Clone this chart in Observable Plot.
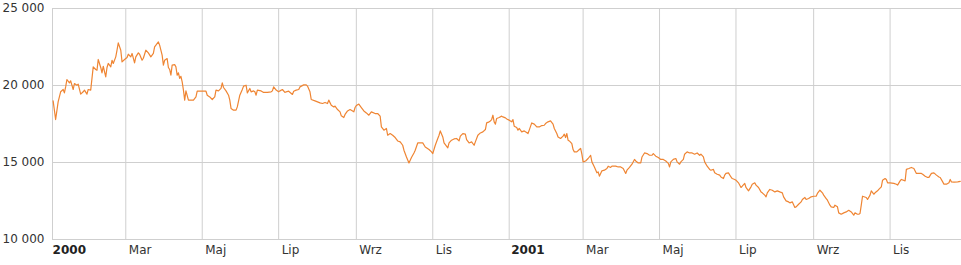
<!DOCTYPE html>
<html><head><meta charset="utf-8">
<script src="https://cdn.jsdelivr.net/npm/d3@7"></script>
<script src="https://cdn.jsdelivr.net/npm/@observablehq/plot@0.6"></script>
<style>html,body{margin:0;padding:0;background:#fff}svg{display:block}</style>
</head><body><div id="chart"></div>
<script>
const dates = [
"2000-01-03","2000-01-05","2000-01-07","2000-01-09","2000-01-11","2000-01-12","2000-01-13","2000-01-14","2000-01-16","2000-01-17","2000-01-19","2000-01-20","2000-01-22","2000-01-23","2000-01-25","2000-01-27","2000-01-28","2000-01-30","2000-01-31",
"2000-02-02","2000-02-04","2000-02-06","2000-02-07","2000-02-08","2000-02-10","2000-02-11","2000-02-12","2000-02-14","2000-02-15","2000-02-16","2000-02-18","2000-02-19","2000-02-20","2000-02-22","2000-02-23","2000-02-24","2000-02-26","2000-02-27","2000-02-29",
"2000-03-02","2000-03-03","2000-03-05","2000-03-06","2000-03-08","2000-03-09","2000-03-11","2000-03-12","2000-03-14","2000-03-15","2000-03-17","2000-03-19","2000-03-21","2000-03-23","2000-03-24","2000-03-27","2000-03-28","2000-03-30","2000-03-31",
"2000-04-01","2000-04-03","2000-04-04","2000-04-05","2000-04-06","2000-04-07","2000-04-09","2000-04-10","2000-04-11","2000-04-12","2000-04-13","2000-04-14","2000-04-15","2000-04-16","2000-04-17","2000-04-18","2000-04-20","2000-04-22","2000-04-24","2000-04-26","2000-04-27","2000-04-30",
"2000-05-02","2000-05-04","2000-05-05","2000-05-07","2000-05-09","2000-05-11","2000-05-12","2000-05-14","2000-05-16","2000-05-17","2000-05-18","2000-05-20","2000-05-22","2000-05-23","2000-05-24","2000-05-26","2000-05-28","2000-05-29","2000-05-31",
"2000-06-02","2000-06-03","2000-06-05","2000-06-06","2000-06-08","2000-06-09","2000-06-11","2000-06-12","2000-06-13","2000-06-14","2000-06-17","2000-06-19","2000-06-22","2000-06-25","2000-06-26","2000-06-27","2000-06-29",
"2000-07-01","2000-07-02","2000-07-04","2000-07-06","2000-07-07","2000-07-09","2000-07-12","2000-07-13","2000-07-15","2000-07-17","2000-07-18","2000-07-21","2000-07-23","2000-07-24","2000-07-26","2000-07-27","2000-07-30",
"2000-08-01","2000-08-03","2000-08-05","2000-08-07","2000-08-09","2000-08-10","2000-08-12","2000-08-14","2000-08-15","2000-08-17","2000-08-19","2000-08-20","2000-08-22","2000-08-23","2000-08-25","2000-08-27","2000-08-30","2000-08-31",
"2000-09-01","2000-09-03","2000-09-05","2000-09-07","2000-09-09","2000-09-11","2000-09-13","2000-09-16","2000-09-18","2000-09-20","2000-09-21","2000-09-23","2000-09-25","2000-09-26","2000-09-28","2000-09-30",
"2000-10-02","2000-10-04","2000-10-06","2000-10-08","2000-10-09","2000-10-11","2000-10-13","2000-10-15","2000-10-17","2000-10-18","2000-10-20","2000-10-22","2000-10-24","2000-10-26","2000-10-29","2000-10-31",
"2000-11-01","2000-11-03","2000-11-05","2000-11-06","2000-11-07","2000-11-09","2000-11-10","2000-11-13","2000-11-14","2000-11-16","2000-11-18","2000-11-20","2000-11-22","2000-11-23","2000-11-25","2000-11-27","2000-11-28","2000-11-30",
"2000-12-02","2000-12-04","2000-12-05","2000-12-07","2000-12-09","2000-12-11","2000-12-13","2000-12-14","2000-12-16","2000-12-17","2000-12-18","2000-12-19","2000-12-20","2000-12-21","2000-12-22","2000-12-24","2000-12-26","2000-12-27","2000-12-29","2000-12-30",
"2001-01-01","2001-01-03","2001-01-04","2001-01-05","2001-01-07","2001-01-08","2001-01-09","2001-01-11","2001-01-13","2001-01-14","2001-01-16","2001-01-17","2001-01-19","2001-01-21","2001-01-23","2001-01-25","2001-01-27","2001-01-29","2001-01-30",
"2001-02-01","2001-02-03","2001-02-05","2001-02-06","2001-02-08","2001-02-09","2001-02-11","2001-02-13","2001-02-14","2001-02-15","2001-02-16","2001-02-17","2001-02-18","2001-02-20","2001-02-21","2001-02-22","2001-02-24","2001-02-26","2001-02-27","2001-02-28",
"2001-03-01","2001-03-03","2001-03-05","2001-03-07","2001-03-08","2001-03-10","2001-03-12","2001-03-13","2001-03-14","2001-03-16","2001-03-18","2001-03-20","2001-03-21","2001-03-23","2001-03-24","2001-03-27","2001-03-29","2001-03-31",
"2001-04-02","2001-04-04","2001-04-05","2001-04-07","2001-04-09","2001-04-11","2001-04-12","2001-04-14","2001-04-16","2001-04-17","2001-04-19","2001-04-21","2001-04-23","2001-04-25","2001-04-26","2001-04-28","2001-04-30",
"2001-05-02","2001-05-04","2001-05-06","2001-05-08","2001-05-09","2001-05-10","2001-05-12","2001-05-14","2001-05-15","2001-05-17","2001-05-18","2001-05-20","2001-05-21","2001-05-23","2001-05-25","2001-05-27","2001-05-29","2001-05-31",
"2001-06-02","2001-06-03","2001-06-05","2001-06-06","2001-06-08","2001-06-10","2001-06-11","2001-06-13","2001-06-14","2001-06-16","2001-06-18","2001-06-19","2001-06-21","2001-06-22","2001-06-23","2001-06-25","2001-06-27","2001-06-28","2001-06-30",
"2001-07-01","2001-07-03","2001-07-05","2001-07-06","2001-07-08","2001-07-09","2001-07-11","2001-07-13","2001-07-14","2001-07-16","2001-07-17","2001-07-19","2001-07-21","2001-07-22","2001-07-24","2001-07-25","2001-07-26","2001-07-28","2001-07-30",
"2001-08-01","2001-08-03","2001-08-05","2001-08-07","2001-08-08","2001-08-10","2001-08-12","2001-08-13","2001-08-15","2001-08-17","2001-08-18","2001-08-20","2001-08-22","2001-08-23","2001-08-25","2001-08-26","2001-08-28","2001-08-30",
"2001-09-01","2001-09-03","2001-09-04","2001-09-06","2001-09-08","2001-09-09","2001-09-11","2001-09-12","2001-09-14","2001-09-15","2001-09-17","2001-09-18","2001-09-20","2001-09-21","2001-09-23","2001-09-25","2001-09-27","2001-09-29",
"2001-10-01","2001-10-03","2001-10-04","2001-10-06","2001-10-07","2001-10-08","2001-10-09","2001-10-10","2001-10-13","2001-10-14","2001-10-16","2001-10-17","2001-10-19","2001-10-20","2001-10-22","2001-10-23","2001-10-25","2001-10-26","2001-10-28","2001-10-29","2001-10-30",
"2001-11-01","2001-11-04","2001-11-06","2001-11-07","2001-11-09","2001-11-10","2001-11-13","2001-11-14","2001-11-16","2001-11-18","2001-11-20","2001-11-22","2001-11-24","2001-11-26","2001-11-27","2001-11-29",
"2001-12-01","2001-12-02","2001-12-04","2001-12-06","2001-12-08","2001-12-10","2001-12-11","2001-12-13","2001-12-14","2001-12-16","2001-12-18","2001-12-19","2001-12-20","2001-12-22","2001-12-25","2001-12-27"
];
const values = [
19000,17790,18940,19590,19740,19520,19910,20390,20170,20300,19740,20130,20020,20090,19440,19590,19700,19440,19740,
19700,21210,21040,20990,21690,21170,20820,21250,20560,21170,21430,21210,21640,21430,21860,22290,22770,22290,21530,21690,
21820,22030,21860,22080,21470,21860,22120,22030,21640,21770,22290,22120,21860,22080,22510,22830,22620,21970,21320,
21640,21750,21170,21040,20670,21320,21360,21210,20670,20820,20460,20600,20230,19700,19050,19650,19050,19050,19050,19260,19630,19630,
19630,19630,19370,19260,19090,19260,19700,19650,19810,20170,19870,19650,19370,19050,18510,18400,18400,18610,19370,
19740,19960,20020,19520,19810,19590,19650,19590,19370,19700,19650,19550,19550,19590,19650,19910,19700,
19590,19650,19740,19550,19590,19630,19420,19630,19700,19740,19910,20040,20040,19960,19590,19090,19000,
18940,18870,18830,18900,18830,19050,18720,18610,18660,18440,18290,18030,17920,18120,18350,18440,18290,18570,
18700,18790,18570,18350,18220,18070,18290,18180,18180,18010,17310,17100,17210,16770,16880,16770,
16620,16400,16340,16120,15800,15360,14970,15320,15620,15800,16270,16270,16270,16010,15840,15690,
15580,16120,16560,16770,17050,16660,16270,15950,16270,16450,16530,16560,16400,16710,16880,16840,16490,16270,
16340,16120,16340,16770,16920,16990,17140,17570,17640,17700,17790,18070,17640,17490,17860,17920,18010,17960,17900,17830,
17750,17640,17790,17360,17270,17100,17210,16990,17050,16990,16880,17100,17570,17490,17310,17310,17400,17420,17530,
17640,17700,17490,17210,16880,16660,16560,16710,16840,16620,16880,16450,16400,16230,15840,15690,15690,15840,15910,15540,
15040,15100,15260,15470,15040,14710,14330,14390,14110,14460,14500,14610,14760,14680,14760,14760,14710,14710,
14610,14290,14500,14680,14890,15200,15100,14970,14970,15360,15620,15580,15470,15470,15580,15410,15320,
15200,15200,15100,14940,14710,15040,15200,15260,15040,14890,15040,15200,15540,15690,15620,15620,15540,15620,
15470,15540,15360,15040,14760,14550,14500,14550,14330,14240,14180,14060,13960,14180,14290,14330,14060,13960,13900,
13850,13680,13380,13460,13640,13380,13160,13420,13590,13680,13530,13380,13090,13030,12880,12770,13030,13250,13200,
13090,13160,13090,13030,12770,12510,12440,12380,12440,12080,12120,12290,12440,12600,12730,12600,12660,12770,
12810,12810,12990,13200,13030,12880,12660,12550,12230,12120,12080,12230,12120,11730,11640,11730,11790,11900,
11790,11580,11730,11640,11640,11690,12230,12810,12730,12600,12880,13160,12940,13030,13160,13250,13420,13850,13960,13900,13680,
13680,13640,13590,13530,13810,13900,13810,14550,14610,14680,14610,14290,14290,14290,14240,14110,
14030,14030,14290,14330,14180,14060,14030,13740,13590,13590,13680,13900,13740,13720,13740,13770
];
const xTickDates = ["2000-01-01","2000-03-01","2000-05-01","2000-07-01","2000-09-01","2000-11-01","2001-01-01","2001-03-01","2001-05-01","2001-07-01","2001-09-01","2001-11-01"];
const xTickLabels = ["2000","Mar","Maj","Lip","Wrz","Lis","2001","Mar","Maj","Lip","Wrz","Lis"];
const yTicks = [10000, 15000, 20000, 25000];
const yTickLabels = ["10 000", "15 000", "20 000", "25 000"];
const xDomain = ["2000-01-02T12:00:00Z", "2001-12-28T00:00:00Z"];
const yDomain = [10000, 25000];

const data = dates.map((d, i) => ({date: new Date(d + "T00:00:00Z"), value: values[i]}));
const ticks = xTickDates.map((d, i) => ({date: new Date(d + "T00:00:00Z"), label: xTickLabels[i], year: /^\d{4}$/.test(xTickLabels[i])}));
const xMin = new Date(xDomain[0]), xMax = new Date(xDomain[1]);
const grid = "#cfcfcf";

const chart = Plot.plot({
  width: 961, height: 265,
  marginLeft: 52, marginRight: 0, marginTop: 8, marginBottom: 26,
  style: {fontFamily: "'DejaVu Sans', Verdana, sans-serif", fontSize: "12px", background: "#fff", color: "#333"},
  x: {type: "utc", domain: [xMin, xMax], axis: null},
  y: {domain: yDomain, axis: null},
  marks: [
    Plot.ruleY(yTicks, {stroke: grid}),
    Plot.ruleX([xMin], {stroke: grid}),
    Plot.ruleX(ticks.filter(t => t.date >= xMin), {x: "date", stroke: grid}),
    Plot.axisY(yTicks, {tickSize: 0, tickPadding: 8, label: null, fill: "#333", fontSize: 12,
      tickFormat: d => yTickLabels[yTicks.indexOf(d)]}),
    Plot.text(ticks.filter(t => !t.year), {x: "date", text: "label", frameAnchor: "bottom", dy: 14, dx: 3, textAnchor: "start", fill: "#333", fontSize: 12}),
    Plot.text(ticks.filter(t => t.year), {x: "date", text: "label", frameAnchor: "bottom", dy: 14, dx: 2, textAnchor: "start", fill: "#222", fontSize: 12, fontWeight: "bold"}),
    Plot.lineY(data, {x: "date", y: "value", stroke: "#ef8533", strokeWidth: 1.2})
  ]
});
document.getElementById("chart").appendChild(chart);
</script>
</body></html>
